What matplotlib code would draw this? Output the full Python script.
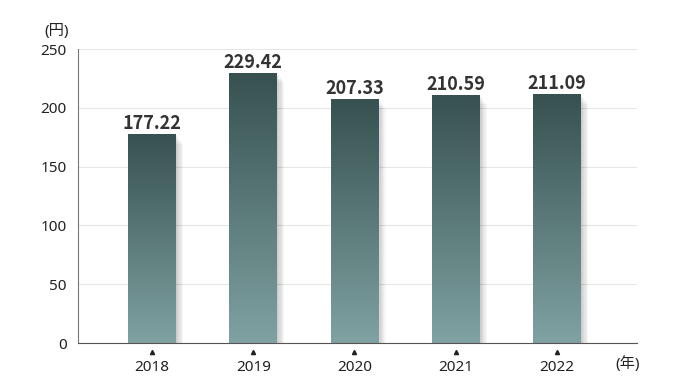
import numpy as np
import matplotlib
matplotlib.use('Agg')
import matplotlib.pyplot as plt
from matplotlib.colors import LinearSegmentedColormap
from matplotlib.patches import Rectangle
import matplotlib.transforms as mtransforms

plt.rcParams['font.family'] = ['Noto Sans', 'Noto Sans CJK JP', 'DejaVu Sans']

years = ['2018', '2019', '2020', '2021', '2022']
values = [177.22, 229.42, 207.33, 210.59, 211.09]
value_labels = ['177.22', '229.42', '207.33', '210.59', '211.09']

fig = plt.figure(figsize=(6.88, 3.90), dpi=100)
ax = fig.add_axes([0.1134, 0.1205, 0.8125, 0.7535])

cmap = LinearSegmentedColormap.from_list('bar', ['#80a2a2', '#365150'])
grad = np.linspace(0, 1, 256).reshape(-1, 1)
x = np.arange(len(years))
w = 0.47

for xi, v, lab in zip(x, values, value_labels):
    # soft shadow on the right side
    for k in range(6):
        ax.add_patch(Rectangle((xi - w / 2 + 0.012 * (k + 1), 0), w, v - 1.5 * k,
                               color='#000000', alpha=0.035, lw=0, zorder=1))
    ax.imshow(grad, extent=[xi - w / 2, xi + w / 2, 0, v], origin='lower',
              cmap=cmap, aspect='auto', zorder=2)
    ax.text(xi, v + 1.5, lab, ha='center', va='bottom', fontsize=13,
            fontweight='bold', color='#333333', zorder=3,
            family=['Noto Sans CJK JP', 'DejaVu Sans'])

ax.set_xlim(-0.73, 4.79)
ax.set_ylim(0, 250)
ax.set_yticks([0, 50, 100, 150, 200, 250])
ax.set_xticks(x)
ax.set_xticklabels(years)
ax.tick_params(axis='both', length=0, labelsize=11, colors='#222222')
ax.tick_params(axis='x', pad=12)
ax.tick_params(axis='y', pad=8)
ax.grid(axis='y', color='#e6e6e6', lw=0.8, zorder=0)
ax.set_axisbelow(True)
for s in ['top', 'right']:
    ax.spines[s].set_visible(False)
ax.spines['left'].set_color('#777777')
ax.spines['bottom'].set_color('#555555')

trans = mtransforms.blended_transform_factory(ax.transData, ax.transAxes)
ax.plot(x, [-0.031] * len(x), '^', ms=3, color='#222222', transform=trans,
        clip_on=False)

fig.text(57 / 688, 1 - 32 / 390, '(円)', ha='center', va='center', fontsize=11,
         color='#222222')
fig.text(628 / 688, 1 - 364 / 390, '(年)', ha='center', va='center', fontsize=11,
         color='#222222')

fig.savefig('out.png', dpi=100)
